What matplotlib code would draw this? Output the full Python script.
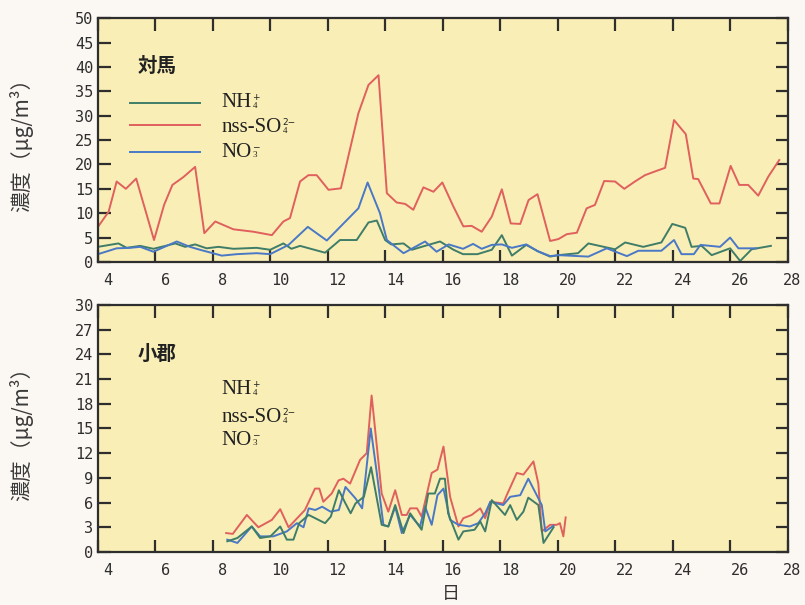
import matplotlib
matplotlib.use("Agg")
import matplotlib.pyplot as plt
import matplotlib.transforms as mtransforms

plt.rcParams['mathtext.fontset'] = 'stix'

# ---------------- data: 対馬 (top) ----------------
tsu_so4_day = [4.0, 4.37, 4.65, 4.97, 5.33, 5.95, 6.3, 6.59, 6.97, 7.38, 7.7, 8.08, 8.71, 9.41,
               10.05, 10.45, 10.68, 11.03, 11.32, 11.61, 12.02, 12.45, 13.06, 13.41, 13.76, 14.05,
               14.39, 14.69, 14.97, 15.32, 15.67, 15.98, 16.37, 16.71, 17.0, 17.35, 17.7, 18.05,
               18.36, 18.69, 18.98, 19.29, 19.73, 20.02, 20.31, 20.66, 21.0, 21.29, 21.61, 21.99,
               22.31, 22.68, 23.03, 23.44, 23.73, 24.04, 24.45, 24.71, 24.88, 25.32, 25.62, 26.01,
               26.31, 26.62, 26.97, 27.32, 27.7]
tsu_so4 = [7.2, 10.3, 16.5, 15.0, 17.1, 4.5, 11.7, 15.8, 17.4, 19.5, 5.9, 8.3, 6.7, 6.2,
           5.5, 8.3, 9.0, 16.5, 17.8, 17.8, 14.8, 15.1, 30.5, 36.3, 38.3, 14.1,
           12.2, 11.9, 10.7, 15.3, 14.4, 16.3, 11.3, 7.3, 7.4, 6.2, 9.3, 14.9,
           7.9, 7.8, 12.7, 13.9, 4.3, 4.7, 5.7, 6.0, 11.0, 11.7, 16.6, 16.5,
           15.0, 16.5, 17.8, 18.7, 19.3, 29.1, 26.2, 17.1, 17.0, 12.0, 12.0, 19.7,
           15.8, 15.8, 13.6, 17.5, 20.9]

tsu_nh4_day = [4.0, 4.71, 5.0, 5.47, 5.93, 6.69, 7.03, 7.38, 7.78, 8.19, 8.71, 9.52, 9.99,
               10.45, 10.73, 11.03, 11.9, 12.42, 13.0, 13.41, 13.7, 13.99, 14.2, 14.63, 14.92,
               15.26, 15.9, 16.37, 16.7, 17.2, 17.7, 18.05, 18.4, 18.9, 19.3, 19.73, 20.02,
               20.7, 21.06, 21.6, 21.99, 22.34, 22.97, 23.6, 23.98, 24.43, 24.65, 25.0, 25.35,
               25.99, 26.34, 26.74, 27.41]
tsu_nh4 = [3.1, 3.8, 2.9, 3.3, 2.7, 3.8, 3.1, 3.6, 2.8, 3.1, 2.7, 2.9, 2.5,
           3.8, 2.7, 3.3, 1.9, 4.5, 4.5, 8.1, 8.5, 4.5, 3.6, 3.8, 2.5,
           3.1, 4.2, 2.5, 1.6, 1.6, 2.5, 5.5, 1.3, 3.5, 2.2, 1.1, 1.4,
           1.8, 3.8, 3.1, 2.6, 4.0, 3.1, 4.0, 7.8, 7.0, 3.1, 3.3, 1.4,
           2.8, 0.2, 2.6, 3.3]

tsu_no3_day = [4.0, 4.65, 5.12, 5.47, 5.93, 6.74, 7.2, 7.55, 8.31, 8.83, 9.52, 9.99, 10.63,
               11.3, 11.96, 13.06, 13.38, 13.81, 14.05, 14.63, 15.38, 15.78, 16.2, 16.7, 17.05,
               17.35, 17.7, 18.05, 18.4, 18.9, 19.3, 19.73, 20.02, 21.06, 21.7, 22.4, 22.8,
               23.6, 24.04, 24.3, 24.73, 24.96, 25.64, 25.99, 26.28, 26.74, 26.9]
tsu_no3 = [1.6, 2.8, 2.9, 3.1, 2.1, 4.2, 3.1, 2.5, 1.3, 1.6, 1.8, 1.6, 3.5,
           7.2, 4.4, 11.0, 16.3, 10.0, 4.5, 1.8, 4.2, 2.1, 3.6, 2.7, 3.7,
           2.7, 3.5, 3.6, 2.9, 3.6, 2.2, 1.2, 1.4, 1.1, 2.8, 1.2, 2.3,
           2.3, 4.5, 1.6, 1.6, 3.5, 3.1, 5.0, 2.8, 2.8, 2.8]

# ---------------- data: 小郡 (bottom) ----------------
ogo_so4_day = [8.46, 8.69, 9.18, 9.58, 10.05, 10.34, 10.63, 11.2, 11.55, 11.7, 11.84, 12.13,
               12.37, 12.54, 12.77, 13.12, 13.35, 13.52, 13.87, 14.1, 14.34, 14.57, 14.74,
               14.86, 15.1, 15.26, 15.61, 15.81, 16.02, 16.25, 16.54, 16.71, 17.0, 17.3, 17.47,
               17.65, 18.1, 18.22, 18.57, 18.8, 19.15, 19.32, 19.44, 19.73, 19.96, 20.07,
               20.19, 20.27]
ogo_so4 = [2.3, 2.2, 4.5, 3.0, 3.9, 5.2, 3.0, 5.1, 7.7, 7.7, 6.1, 7.1,
           8.7, 8.9, 8.3, 11.2, 12.0, 19.0, 7.1, 4.9, 7.5, 4.5, 4.5,
           5.3, 5.3, 4.3, 9.6, 10.0, 12.8, 6.7, 3.1, 4.1, 4.5, 5.3, 4.1,
           6.1, 5.9, 6.9, 9.6, 9.4, 11.0, 8.3, 2.5, 3.3, 3.3, 3.5,
           1.9, 4.2]

ogo_nh4_day = [8.5, 8.85, 9.35, 9.64, 10.0, 10.34, 10.57, 10.8, 11.0, 11.33, 11.9, 12.1,
               12.38, 12.61, 12.79, 12.96, 13.25, 13.5, 13.87, 14.1, 14.34, 14.63, 14.86,
               15.26, 15.49, 15.72, 15.9, 16.07, 16.18, 16.54, 16.71, 17.1, 17.3, 17.47,
               17.7, 18.16, 18.34, 18.57, 18.8, 18.97, 19.32, 19.5, 19.85]
ogo_nh4 = [1.3, 1.7, 3.1, 1.7, 1.9, 3.1, 1.5, 1.5, 3.5, 4.5, 3.5, 4.3,
           7.5, 5.9, 4.7, 5.9, 6.7, 10.3, 3.3, 3.1, 5.7, 2.3, 4.7,
           2.7, 7.1, 7.1, 8.9, 8.9, 4.7, 1.5, 2.5, 2.7, 3.7, 2.5,
           6.3, 4.5, 5.7, 3.9, 4.9, 6.6, 5.7, 1.1, 3.0]

ogo_no3_day = [8.5, 8.85, 9.35, 9.64, 10.1, 10.57, 10.92, 11.15, 11.33, 11.56, 11.8, 12.09,
               12.38, 12.61, 12.96, 13.19, 13.49, 13.7, 13.93, 14.1, 14.34, 14.57, 14.86,
               15.2, 15.38, 15.61, 15.81, 16.02, 16.25, 16.54, 16.94, 17.23, 17.47, 17.65,
               17.88, 18.1, 18.34, 18.69, 18.97, 19.44, 19.56, 19.85]
ogo_no3 = [1.5, 1.1, 3.1, 1.9, 1.9, 2.5, 3.5, 3.0, 5.3, 5.1, 5.5, 4.9,
           5.1, 7.9, 6.5, 5.3, 15.0, 9.6, 3.3, 3.1, 5.5, 2.3, 4.5,
           3.1, 5.5, 3.3, 6.9, 7.7, 3.9, 3.3, 3.1, 3.5, 4.7, 6.1,
           5.9, 5.7, 6.7, 6.9, 8.9, 5.7, 2.5, 3.2]

x_ticks = [4, 6, 8, 10, 12, 14, 16, 18, 20, 22, 24, 26, 28]
top_yticks = [0, 5, 10, 15, 20, 25, 30, 35, 40, 45, 50]
bot_yticks = [0, 3, 6, 9, 12, 15, 18, 21, 24, 27, 30]

# species labels: (base, superscript, subscript)
species = [('NH', '+', '4'), ('nss-SO', '2−', '4'), ('NO', '−', '3')]

C_NH4 = '#3f7d68'
C_SO4 = '#e0605e'
C_NO3 = '#4a78c6'
BG_AX = '#f9efb6'
BG_FIG = '#fbf7f2'
INK = '#2e2e2e'
CJK = ['Noto Sans CJK JP', 'DejaVu Sans']

fig = plt.figure(figsize=(8.05, 6.05), dpi=100, facecolor=BG_FIG)
ax1 = fig.add_axes([0.1217, 0.567, 0.857, 0.403])
ax2 = fig.add_axes([0.1217, 0.0876, 0.857, 0.4084])

ylabel = '濃度（μg/m³）'

def style(ax, yticks):
    ax.set_facecolor(BG_AX)
    ax.set_xlim(4, 28)
    ax.set_ylim(yticks[0], yticks[-1])
    ax.set_xticks(x_ticks)
    ax.set_yticks(yticks)
    ax.tick_params(axis='both', direction='in', length=9, width=1.6, color=INK,
                   labelsize=11, labelcolor=INK, top=True, right=True)
    ax.tick_params(axis='x', pad=8)
    for lab in ax.get_xticklabels() + ax.get_yticklabels():
        lab.set_family('DejaVu Sans Mono')
    labs = ax.get_xticklabels()
    for i, lab in enumerate(labs):
        dx = 3 if i == len(labs) - 1 else 7
        offset = mtransforms.ScaledTranslation(dx / 72, 0, fig.dpi_scale_trans)
        lab.set_transform(lab.get_transform() + offset)
    for s in ax.spines.values():
        s.set_linewidth(1.6)
        s.set_color(INK)
    ax.set_ylabel(ylabel, family=CJK, fontsize=15, color='#3a3a3a')
    ax.yaxis.set_label_coords(-0.094, 0.5)

style(ax1, top_yticks)
style(ax2, bot_yticks)

lw = 1.4
ax1.plot(tsu_so4_day, tsu_so4, color=C_SO4, lw=lw)
ax1.plot(tsu_nh4_day, tsu_nh4, color=C_NH4, lw=lw)
ax1.plot(tsu_no3_day, tsu_no3, color=C_NO3, lw=lw)

ax2.plot(ogo_so4_day, ogo_so4, color=C_SO4, lw=lw)
ax2.plot(ogo_no3_day, ogo_no3, color=C_NO3, lw=lw)
ax2.plot(ogo_nh4_day, ogo_nh4, color=C_NH4, lw=lw)

# site names
ax1.text(0.058, 0.80, '対馬', transform=ax1.transAxes, fontsize=14, fontweight='bold',
         family=CJK, color='#222', va='center')
ax2.text(0.058, 0.80, '小郡', transform=ax2.transAxes, fontsize=14, fontweight='bold',
         family=CJK, color='#222', va='center')


def chem_label(ax, x, y, base, sup, sub):
    t = ax.text(x, y, base, transform=ax.transAxes, fontsize=15,
                family='Liberation Serif', color='#222', va='center')
    ax.annotate(sup, xy=(1.0, 0.56), xycoords=t, fontsize=6.5, family='DejaVu Sans',
                color='#222', ha='left', va='bottom', xytext=(0.5, 0),
                textcoords='offset points')
    ax.annotate(sub, xy=(1.0, 0.56), xycoords=t, fontsize=6.5, family='Liberation Serif',
                color='#222', ha='left', va='top', xytext=(0.5, 0),
                textcoords='offset points')


colors = [C_NH4, C_SO4, C_NO3]

# legend in top panel (lines + labels)
top_line_y = [0.652, 0.562, 0.451]
top_text_y = [0.652, 0.550, 0.451]
for (b, sp, sb), col, ly, ty in zip(species, colors, top_line_y, top_text_y):
    ax1.plot([0.046, 0.148], [ly, ly], transform=ax1.transAxes, color=col, lw=lw)
    chem_label(ax1, 0.179, ty, b, sp, sb)

# labels in bottom panel
bot_y = [0.656, 0.543, 0.451]
for (b, sp, sb), yy in zip(species, bot_y):
    chem_label(ax2, 0.179, yy, b, sp, sb)

ax2.set_xlabel('日', family=CJK, fontsize=13, color='#333')
ax2.xaxis.set_label_coords((451 - 98) / 690, -0.135)

fig.savefig('out.png', dpi=100, facecolor=BG_FIG)
